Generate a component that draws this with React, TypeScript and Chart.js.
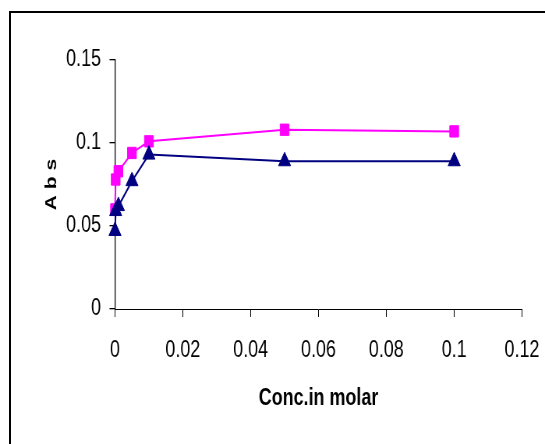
import React, { useEffect, useRef } from "react";
import { Chart, registerables } from "chart.js";

Chart.register(...registerables);

const concX: number[] = [0, 0.0002, 0.001, 0.005, 0.01, 0.05, 0.1];
const absPink: number[] = [0.06, 0.078, 0.083, 0.094, 0.101, 0.108, 0.107];
const absNavy: number[] = [0.047, 0.059, 0.062, 0.077, 0.093, 0.089, 0.089];
const xTickLabels: string[] = ["0", "0.02", "0.04", "0.06", "0.08", "0.1", "0.12"];
const yTickLabels: string[] = ["0", "0.05", "0.1", "0.15"];
const xTitle = "Conc.in molar";
const yTitle = "A b s";

// The reference is a horizontally squeezed picture; the canvas is drawn wider and shown at 545px.
const CSS_W = 545;
const CSS_H = 444;
const SQUEEZE = 0.78;
const INT_W = Math.round(CSS_W / SQUEEZE);
const FONT = "'Liberation Sans', Arial, sans-serif";

export default function App() {
  const ref = useRef<HTMLCanvasElement | null>(null);
  useEffect(() => {
    if (!ref.current) return;
    const f = CSS_W / INT_W;
    const plotLeft = 115 / f;
    const plotRight = 522 / f;
    const padL = 50;
    const chart = new Chart(ref.current, {
      type: "line",
      data: {
        datasets: [
          {
            label: "navy",
            data: concX.map((x, i) => ({ x, y: absNavy[i] })),
            borderColor: "#000080",
            backgroundColor: "#000080",
            borderWidth: 2,
            pointStyle: "triangle",
            pointRadius: 9,
            pointBorderWidth: 1,
            tension: 0,
            clip: false,
          },
          {
            label: "pink",
            data: concX.map((x, i) => ({ x, y: absPink[i] })),
            borderColor: "#FF00FF",
            backgroundColor: "#FF00FF",
            borderWidth: 2,
            pointStyle: "rect",
            pointRadius: 8,
            pointBorderWidth: 1,
            tension: 0,
            clip: false,
          },
        ],
      },
      options: {
        animation: false,
        responsive: false,
        maintainAspectRatio: false,
        devicePixelRatio: 1,
        layout: { padding: { left: padL, top: 60, right: INT_W - plotRight, bottom: 31.6 } },
        plugins: { legend: { display: false }, tooltip: { enabled: false } },
        scales: {
          x: {
            type: "linear",
            min: 0,
            max: 0.12,
            afterFit: (s: any) => {
              s.height = 103.4;
              s.paddingLeft = 0;
              s.paddingRight = 0;
            },
            ticks: {
              stepSize: 0.02,
              padding: 20,
              color: "#000",
              font: { family: FONT, size: 23 },
              maxRotation: 0,
              autoSkip: false,
              callback: (_v: any, i: number) => xTickLabels[i],
            },
            grid: { drawOnChartArea: false, drawTicks: true, tickLength: 8, color: "#000", lineWidth: 1 },
            border: { display: true, color: "#000", width: 1 },
            title: {
              display: true,
              text: xTitle,
              color: "#000",
              font: { family: FONT, size: 23, weight: "bold" },
              padding: { top: 0, bottom: 0 },
            },
          },
          y: {
            type: "linear",
            min: 0,
            max: 0.15,
            afterFit: (s: any) => {
              s.width = plotLeft - padL;
              s.paddingTop = 0;
              s.paddingBottom = 0;
            },
            ticks: {
              stepSize: 0.05,
              padding: 11,
              color: "#000",
              font: { family: FONT, size: 23 },
              callback: (_v: any, i: number) => yTickLabels[i],
            },
            grid: { drawOnChartArea: false, drawTicks: true, tickLength: 7, color: "#000", lineWidth: 1.3 },
            border: { display: true, color: "#000", width: 1.3 },
            title: {
              display: true,
              text: yTitle,
              color: "#000",
              font: { family: FONT, size: 21, weight: "bold" },
              padding: { top: 4, bottom: 0 },
            },
          },
        },
      },
    });
    return () => chart.destroy();
  }, []);

  return (
    <div style={{ position: "absolute", left: 0, top: 0, width: CSS_W, height: CSS_H, overflow: "hidden", background: "#fff" }}>
      <div
        style={{
          position: "absolute",
          left: 9,
          top: 11,
          width: 600,
          height: 500,
          border: "2px solid #000",
          boxSizing: "border-box",
        }}
      />
      <canvas
        ref={ref}
        width={INT_W}
        height={CSS_H}
        style={{ position: "absolute", left: 0, top: 0, width: CSS_W, height: CSS_H, display: "block" }}
      />
    </div>
  );
}
